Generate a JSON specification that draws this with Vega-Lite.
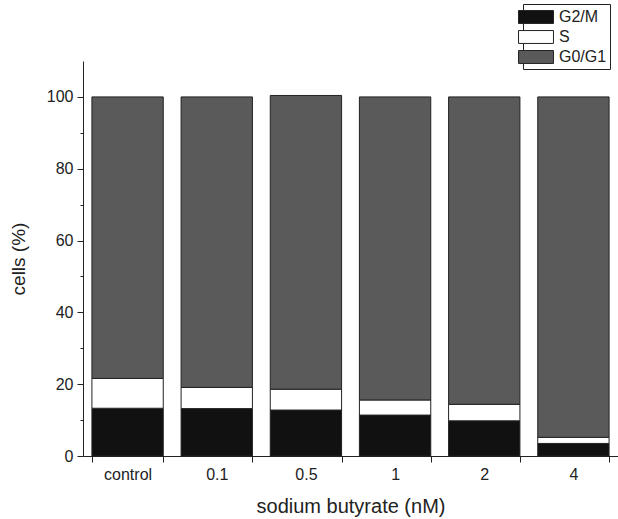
{
  "$schema": "https://vega.github.io/schema/vega-lite/v6.json",
  "width": 535,
  "height": 395,
  "autosize": {"type": "none"},
  "padding": {"left": 83, "top": 61, "right": 0, "bottom": 63},
  "background": "white",
  "config": {
    "view": {"stroke": null},
    "font": "Liberation Sans",
    "axis": {"labelFont": "Liberation Sans", "titleFont": "Liberation Sans", "labelColor": "#222", "titleColor": "#222", "domainColor": "#222", "tickColor": "#222", "titleFontWeight": "normal", "grid": false}
  },
  "data": {
    "values": [
      {"dose": "control", "phase": "G2/M", "k": 1, "pct": 13.3},
      {"dose": "control", "phase": "S", "k": 2, "pct": 8.3},
      {"dose": "control", "phase": "G0/G1", "k": 3, "pct": 78.4},
      {"dose": "0.1", "phase": "G2/M", "k": 1, "pct": 13.2},
      {"dose": "0.1", "phase": "S", "k": 2, "pct": 5.9},
      {"dose": "0.1", "phase": "G0/G1", "k": 3, "pct": 80.9},
      {"dose": "0.5", "phase": "G2/M", "k": 1, "pct": 12.8},
      {"dose": "0.5", "phase": "S", "k": 2, "pct": 5.8},
      {"dose": "0.5", "phase": "G0/G1", "k": 3, "pct": 81.8},
      {"dose": "1", "phase": "G2/M", "k": 1, "pct": 11.4},
      {"dose": "1", "phase": "S", "k": 2, "pct": 4.2},
      {"dose": "1", "phase": "G0/G1", "k": 3, "pct": 84.4},
      {"dose": "2", "phase": "G2/M", "k": 1, "pct": 9.8},
      {"dose": "2", "phase": "S", "k": 2, "pct": 4.6},
      {"dose": "2", "phase": "G0/G1", "k": 3, "pct": 85.6},
      {"dose": "4", "phase": "G2/M", "k": 1, "pct": 3.5},
      {"dose": "4", "phase": "S", "k": 2, "pct": 1.7},
      {"dose": "4", "phase": "G0/G1", "k": 3, "pct": 94.8}
    ]
  },
  "mark": {"type": "bar", "stroke": "#222", "strokeWidth": 1},
  "encoding": {
    "x": {
      "field": "dose",
      "type": "nominal",
      "sort": ["control", "0.1", "0.5", "1", "2", "4"],
      "scale": {"paddingInner": 0.2, "paddingOuter": 0.1},
      "axis": {
        "title": "sodium butyrate (nM)",
        "labelAngle": 0,
        "labelFontSize": 16,
        "titleFontSize": 20,
        "titlePadding": 14,
        "tickBand": "extent",
        "tickSize": 6,
        "labelPadding": 4
      }
    },
    "y": {
      "field": "pct",
      "type": "quantitative",
      "stack": "zero",
      "scale": {"domain": [0, 110], "nice": false},
      "axis": {
        "title": "cells (%)",
        "values": [0, 10, 20, 30, 40, 50, 60, 70, 80, 90, 100],
        "labelExpr": "datum.value % 20 === 0 ? datum.label : ''",
        "tickSize": {"condition": {"test": "datum.value % 20 === 0", "value": 6}, "value": 3},
        "labelFontSize": 16,
        "titleFontSize": 19,
        "titlePadding": 18,
        "labelPadding": 4
      }
    },
    "order": {"field": "k", "type": "quantitative", "sort": "ascending"},
    "color": {
      "field": "phase",
      "type": "nominal",
      "sort": ["G2/M", "S", "G0/G1"],
      "scale": {"domain": ["G2/M", "S", "G0/G1"], "range": ["#111111", "#ffffff", "#5a5a5a"]},
      "legend": {
        "title": null,
        "orient": "none",
        "legendX": 440,
        "legendY": -57,
        "strokeColor": "#222",
        "padding": 3,
        "symbolType": "M-1.84,-0.68L1.84,-0.68L1.84,0.68L-1.84,0.68Z",
        "symbolSize": 361,
        "symbolStrokeColor": "#222",
        "symbolStrokeWidth": 1,
        "labelFontSize": 16,
        "labelColor": "#222",
        "rowPadding": 1,
        "labelOffset": 13
      }
    }
  }
}
